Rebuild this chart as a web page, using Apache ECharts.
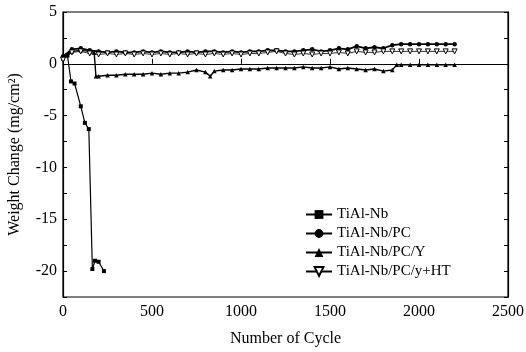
<!DOCTYPE html>
<html>
<head>
<meta charset="utf-8">
<script src="https://cdn.jsdelivr.net/npm/echarts@6/dist/echarts.min.js"></script>
<style>
  html, body { margin: 0; padding: 0; background: #fff; }
  #chart { width: 526px; height: 352px; }
</style>
</head>
<body>
<div id="chart"></div>
<script>
// Weight change vs number of cycles
const seriesNames = ['TiAl-Nb', 'TiAl-Nb/PC', 'TiAl-Nb/PC/Y', 'TiAl-Nb/PC/y+HT'];

const cyclesNb = [0, 25, 45, 65, 100, 123, 145, 165, 180, 200, 230];
const weightNb = [0.5, 0.8, -1.7, -1.9, -4.1, -5.7, -6.3, -19.8, -19.0, -19.1, -20.0];

const cyclesLong = [0, 50, 100, 150, 200, 250, 300, 350, 400, 450, 500, 550, 600, 650, 700, 750,
  800, 850, 900, 950, 1000, 1050, 1100, 1150, 1200, 1250, 1300, 1350, 1400, 1450, 1500, 1550,
  1600, 1650, 1700, 1750, 1800, 1850, 1900, 1950, 2000, 2050, 2100, 2150, 2200];
const weightPC = [0.7, 1.4, 1.5, 1.3, 1.2, 1.1, 1.2, 1.1, 1.1, 1.2, 1.1, 1.2, 1.1, 1.1, 1.2, 1.1,
  1.2, 1.2, 1.1, 1.2, 1.1, 1.2, 1.2, 1.3, 1.3, 1.2, 1.2, 1.3, 1.4, 1.2, 1.3, 1.5,
  1.4, 1.7, 1.5, 1.6, 1.5, 1.8, 1.9, 1.9, 1.9, 1.9, 1.9, 1.9, 1.9];
const weightPCyHT = [0.4, 1.1, 1.2, 1.0, 0.9, 1.0, 0.9, 1.0, 0.9, 1.0, 0.9, 1.0, 0.9, 1.0, 0.9, 1.0,
  0.9, 1.0, 0.9, 1.0, 0.9, 1.0, 1.0, 1.1, 1.2, 1.0, 0.9, 1.0, 0.9, 1.0, 1.0, 1.1,
  1.0, 1.2, 1.1, 1.1, 1.2, 1.2, 1.2, 1.2, 1.2, 1.2, 1.2, 1.2, 1.2];

const cyclesPCY = [0, 50, 100, 150, 175, 185, 200, 250, 300, 350, 400, 450, 500, 550, 600, 650,
  700, 750, 800, 827, 850, 900, 950, 1000, 1050, 1100, 1150, 1200, 1250, 1300, 1350, 1400,
  1450, 1500, 1550, 1600, 1650, 1700, 1750, 1800, 1850, 1875, 1900, 1950, 2000, 2050, 2100, 2150, 2200];
const weightPCY = [0.6, 1.2, 1.3, 1.2, 1.1, -1.2, -1.2, -1.1, -1.1, -1.0, -1.0, -1.0, -0.9, -1.0, -0.9, -0.9,
  -0.8, -0.6, -0.8, -1.2, -0.7, -0.6, -0.6, -0.5, -0.5, -0.5, -0.4, -0.4, -0.4, -0.4, -0.3, -0.4,
  -0.4, -0.3, -0.5, -0.4, -0.5, -0.6, -0.5, -0.7, -0.6, -0.1, -0.1, -0.1, -0.1, -0.1, -0.1, -0.1, -0.1];

const xTicks = [0, 500, 1000, 1500, 2000, 2500];
const yTicks = [5, 0, -5, -10, -15, -20];

const pairs = (xs, ys) => xs.map((x, i) => [x, ys[i]]);
const font = "'Liberation Serif', 'DejaVu Serif', serif";

const chart = echarts.init(document.getElementById('chart'));

const yAxisBase = {
  type: 'value',
  min: -22.5,
  max: 5,
  interval: 2.5,
  axisLine: { show: true, lineStyle: { color: '#000', width: 1.2 } },
  axisTick: { inside: true, length: 4, lineStyle: { color: '#000' } },
  splitLine: { show: false },
};

const option = {
  animation: false,
  backgroundColor: '#fff',
  textStyle: { fontFamily: font, color: '#000' },
  grid: {
    left: 63, right: 18, top: 12, bottom: 55,
    containLabel: false, outerBoundsMode: 'none',
    show: true, borderColor: '#000', borderWidth: 1.2,
  },
  xAxis: {
    type: 'value',
    min: 0,
    max: 2500,
    interval: 500,
    name: 'Number of Cycle',
    nameLocation: 'middle',
    nameGap: 34,
    nameTextStyle: { fontFamily: font, fontSize: 16, color: '#000' },
    axisLine: { lineStyle: { color: '#000', width: 1.2 } },
    axisTick: { inside: true, length: 5, lineStyle: { color: '#000' } },
    axisLabel: {
      fontFamily: font, fontSize: 16, color: '#000', margin: 7,
      formatter: v => (xTicks.includes(v) ? String(v) : ''),
    },
    splitLine: { show: false },
  },
  yAxis: [
    {
      ...yAxisBase,
      name: 'Weight Change (mg/cm²)',
      nameLocation: 'middle',
      nameGap: 40,
      nameTextStyle: { fontFamily: font, fontSize: 16, color: '#000' },
      axisLabel: {
        fontFamily: font, fontSize: 16, color: '#000', margin: 6,
        formatter: v => (yTicks.includes(v) ? String(v) : ''),
      },
    },
    {
      ...yAxisBase,
      position: 'right',
      axisLabel: { show: false },
    },
  ],
  legend: {
    orient: 'vertical',
    left: 300,
    top: 202,
    itemGap: 4,
    itemWidth: 26,
    itemHeight: 11,
    textStyle: { fontFamily: font, fontSize: 15, color: '#000' },
    data: seriesNames,
  },
  series: [
    {
      name: seriesNames[0],
      type: 'line',
      data: pairs(cyclesNb, weightNb),
      symbol: 'rect',
      symbolSize: 4,
      itemStyle: { color: '#000' },
      lineStyle: { color: '#000', width: 1.2 },
      markLine: {
        silent: true,
        symbol: 'none',
        label: { show: false },
        lineStyle: { color: '#000', width: 1, type: 'solid' },
        data: [{ yAxis: 0 }],
      },
    },
    {
      name: seriesNames[1],
      type: 'line',
      data: pairs(cyclesLong, weightPC),
      symbol: 'circle',
      symbolSize: 4.5,
      itemStyle: { color: '#000' },
      lineStyle: { color: '#000', width: 1.8 },
    },
    {
      name: seriesNames[2],
      type: 'line',
      data: pairs(cyclesPCY, weightPCY),
      symbol: 'triangle',
      symbolSize: 4.5,
      itemStyle: { color: '#000' },
      lineStyle: { color: '#000', width: 1.4 },
    },
    {
      name: seriesNames[3],
      type: 'line',
      data: pairs(cyclesLong, weightPCyHT),
      symbol: 'triangle',
      symbolRotate: 180,
      symbolSize: 5,
      itemStyle: { color: '#fff', borderColor: '#000', borderWidth: 1 },
      lineStyle: { color: '#000', width: 0.8 },
    },
  ],
};

chart.setOption(option);
</script>
</body>
</html>
